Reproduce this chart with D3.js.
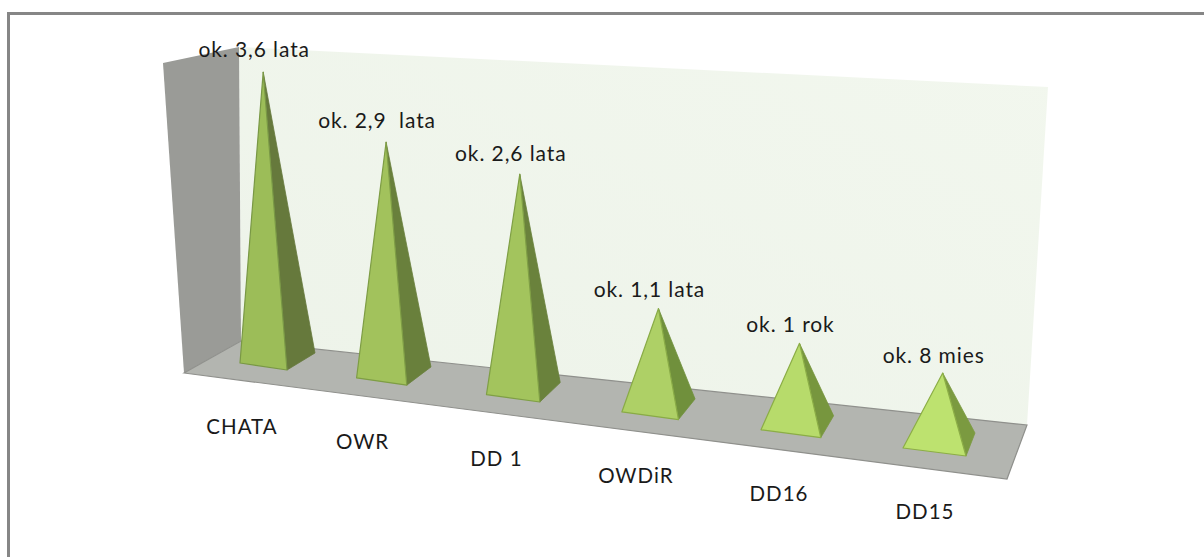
<!DOCTYPE html>
<html>
<head>
    <title>Pyramid chart</title>
    <script src="https://d3js.org/d3.v7.min.js"></script>
    <style>
        html, body { margin: 0; padding: 0; background: #fff; }
        svg { display: block; }
        text { font-family: Lato, "Open Sans", sans-serif; fill: #1a1a1a; }
    </style>
</head>
<body>
    <svg width="1204" height="557"></svg>

    <script>
        // chart values
        var categories = ["CHATA", "OWR", "DD 1", "OWDiR", "DD16", "DD15"];
        var values = [3.6, 2.9, 2.7, 1.22, 1.0, 0.85];
        var valueLabels = ["ok. 3,6 lata", "ok. 2,9  lata", "ok. 2,6 lata", "ok. 1,1 lata", "ok. 1 rok", "ok. 8 mies"];

        var width = 1204, height = 557;
        var svg = d3.select("svg");
        var index = categories.map(function(d, i) { return i; });
        var last = categories.length - 1;

        // the 3d box of the chart
        var box = {
            frontLeft: [184, 373], frontRight: [1007, 479],
            backLeft: [241, 341], backRight: [1027, 425],
            topLeft: [239, 47], topRight: [1048, 87],
            outerTop: [163, 63]
        };

        // scales along the floor: base corner, base edges, lean of the vertical
        var baseX = d3.scalePow().exponent(1.08).domain([0, last]).range([240, 903]);
        var baseY = d3.scaleLinear().domain([240, 903]).range([363, 448]);
        var frontW = d3.scaleLinear().domain([0, last]).range([47, 63]);
        var frontH = d3.scaleLinear().domain([0, last]).range([7, 8]);
        var depthX = d3.scaleLinear().domain([0, last]).range([28, 9]);
        var depthY = d3.scaleLinear().domain([0, last]).range([-17, -23]);
        var lean = d3.scaleLinear().domain([0, 3, last]).range([-0.05, 0, 0.055]);
        var y = d3.scaleLinear().domain([0, 3.6]).range([0, 286]);

        var frontColor = d3.scaleLinear().domain([0.85, 1.22, 2.7]).range(["#bde26f", "#aed066", "#a3c45d"]);
        var sideColor = d3.scaleLinear().domain([0.85, 1.22, 2.7]).range(["#7b9a40", "#70903c", "#6a823c"]);
        var edgeColor = d3.scaleLinear().domain([0.85, 2.7]).range(["#8cae46", "#7f9f45"]);

        function poly(points) { return "M" + points.join("L") + "Z"; }

        // frame, only top and left
        svg.append("path")
            .attr("d", "M8.5," + height + "V13.5H" + width)
            .attr("fill", "none")
            .attr("stroke", "#868686")
            .attr("stroke-width", 3);

        // walls and floor
        var defs = svg.append("defs");
        var wallGrad = defs.append("linearGradient").attr("id", "wallGrad")
            .attr("x1", "0%").attr("y1", "100%").attr("x2", "100%").attr("y2", "0%");
        wallGrad.append("stop").attr("offset", "0%").attr("stop-color", "#edf3e9");
        wallGrad.append("stop").attr("offset", "100%").attr("stop-color", "#f2f7ee");

        svg.append("path")
            .attr("d", poly([box.topLeft, box.topRight, box.backRight, box.backLeft]))
            .attr("fill", "url(#wallGrad)");
        svg.append("path")
            .attr("d", poly([box.outerTop, box.topLeft, box.backLeft, box.frontLeft]))
            .attr("fill", "#9a9b97");
        svg.append("path")
            .attr("d", poly([box.frontLeft, box.backLeft, box.backRight, box.frontRight]))
            .attr("fill", "#b3b5b0")
            .attr("stroke", "#8f908c")
            .attr("stroke-width", 1.2);

        // pyramids
        var geom = index.map(function(i) {
            var left = [baseX(i), baseY(baseX(i))];
            var bottom = [left[0] + frontW(i), left[1] + frontH(i)];
            var right = [bottom[0] + depthX(i), bottom[1] + depthY(i)];
            var cx = (left[0] + right[0]) / 2, cy = (left[1] + right[1]) / 2;
            var h = y(values[i]);
            var apex = [cx + h * lean(i), cy - h];
            return { i: i, value: values[i], left: left, bottom: bottom, right: right, apex: apex };
        });

        var pyramids = svg.selectAll(".pyramid")
            .data(geom)
            .enter()
            .append("g")
            .attr("class", "pyramid");

        pyramids.append("path")
            .attr("d", function(d) { return poly([d.apex, d.bottom, d.right]); })
            .attr("fill", function(d) { return sideColor(d.value); })
            .attr("stroke", function(d) { return sideColor(d.value); })
            .attr("stroke-width", 0.8)
            .attr("stroke-linejoin", "round");

        pyramids.append("path")
            .attr("d", function(d) { return poly([d.apex, d.left, d.bottom]); })
            .attr("fill", function(d) { return frontColor(d.value); })
            .attr("stroke", function(d) { return edgeColor(d.value); })
            .attr("stroke-width", 1.2)
            .attr("stroke-linejoin", "round");

        // value labels above the tips
        var labelGap = d3.scaleLinear().domain([0, last]).range([15, 10]);
        svg.selectAll(".value-label")
            .data(geom)
            .enter()
            .append("text")
            .attr("class", "value-label")
            .attr("x", function(d) { return d.apex[0] - 9; })
            .attr("y", function(d) { return d.apex[1] - labelGap(d.i); })
            .attr("text-anchor", "middle")
            .style("font-size", "21px")
            .style("letter-spacing", "0.9px")
            .style("white-space", "pre")
            .text(function(d) { return valueLabels[d.i]; });

        // category labels under the floor
        var labelShift = d3.scaleLinear().domain([0, last]).range([2, 22]);
        svg.selectAll(".category-label")
            .data(geom)
            .enter()
            .append("text")
            .attr("class", "category-label")
            .attr("x", function(d) { return d.left[0] + labelShift(d.i); })
            .attr("y", function(d) { return d.left[1] + 71; })
            .attr("text-anchor", "middle")
            .style("font-size", "20.5px")
            .style("letter-spacing", "1px")
            .text(function(d) { return categories[d.i]; });
    </script>
</body>
</html>
